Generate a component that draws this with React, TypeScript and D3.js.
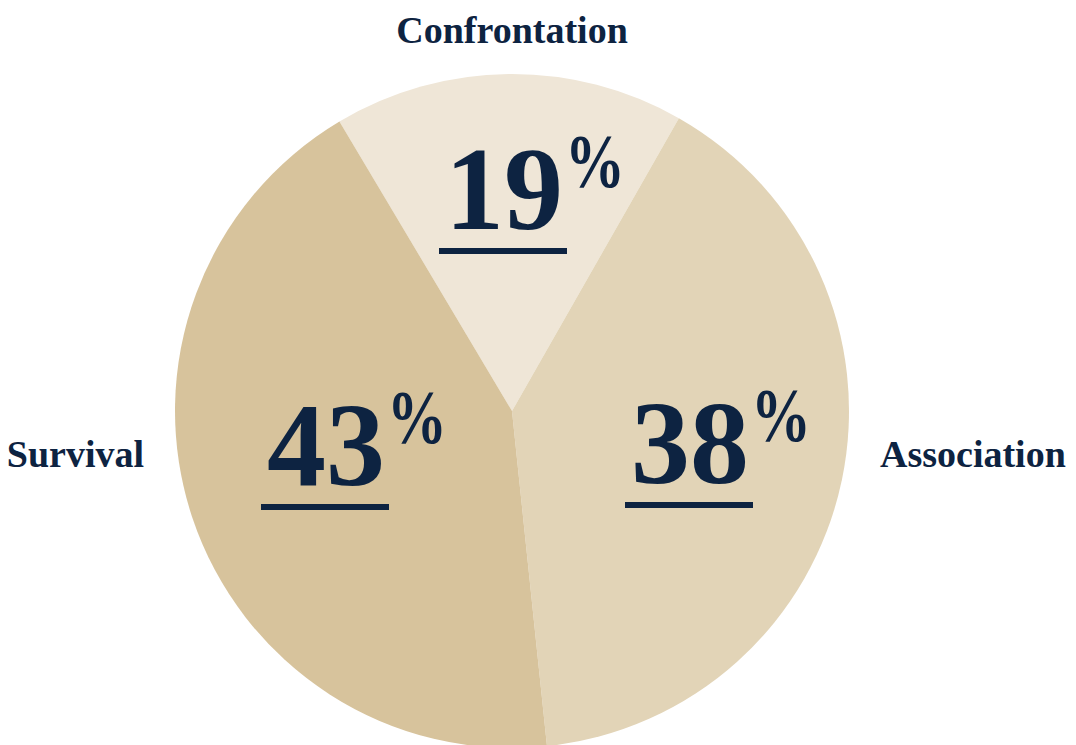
import React, { useRef, useEffect } from 'react';
import * as d3 from 'd3';

// Slice names and printed percentages
const categories = ['Confrontation', 'Association', 'Survival'];
const percentLabels = ['19', '38', '43'];
// Angular shares as drawn in the picture (they do not quite follow the printed numbers)
const sliceShares = [16.8, 40.1, 43.1];
const sliceColors = ['#efe6d7', '#e2d4b7', '#d7c39c'];

const WIDTH = 1076;
const HEIGHT = 745;
const CX = 512;
const CY = 411;
const RADIUS = 337;
const START_DEG = -30.8;
const NAVY = '#0d2341';
const FONT = '"Liberation Serif", "DejaVu Serif", serif';

// number label offsets from pie centre (x centre, baseline)
const numberOffsets = [
  { dx: -8, dy: -182 },
  { dx: 178, dy: 72 },
  { dx: -186, dy: 74 },
];
// name label placement: angle (deg, clockwise from top)
const nameAngles = [0, 90, 270];

const App: React.FC = () => {
  const svgRef = useRef<SVGSVGElement>(null);

  useEffect(() => {
    if (!svgRef.current) return;
    const svg = d3.select(svgRef.current);
    svg.selectAll('*').remove();

    const start = (START_DEG * Math.PI) / 180;
    const pie = d3.pie<number>()
      .value(d => d)
      .sort(null)
      .startAngle(start)
      .endAngle(start + 2 * Math.PI);

    const arc = d3.arc<d3.PieArcDatum<number>>()
      .innerRadius(0)
      .outerRadius(RADIUS);

    const g = svg.append('g').attr('transform', `translate(${CX},${CY})`);

    g.selectAll('path.slice')
      .data(pie(sliceShares))
      .enter()
      .append('path')
      .attr('class', 'slice')
      .attr('d', arc)
      .attr('fill', (_, i) => sliceColors[i]);

    // big percentage labels
    percentLabels.forEach((label, i) => {
      const { dx, dy } = numberOffsets[i];
      const lg = g.append('g').attr('transform', `translate(${dx},${dy})`);
      const digits = lg.append('text')
        .attr('x', 0)
        .attr('y', 0)
        .attr('text-anchor', 'middle')
        .style('font-family', FONT)
        .style('font-weight', 'bold')
        .style('font-size', '118px')
        .style('fill', NAVY)
        .text(label);
      const box = (digits.node() as SVGTextElement).getBBox();
      lg.append('text')
        .attr('x', box.x + box.width + 2)
        .attr('y', -42)
        .attr('textLength', 60)
        .attr('lengthAdjust', 'spacingAndGlyphs')
        .style('font-family', FONT)
        .style('font-weight', 'bold')
        .style('font-size', '76px')
        .style('fill', NAVY)
        .text('%');
      lg.append('rect')
        .attr('x', box.x - 6)
        .attr('y', 19)
        .attr('width', box.width + 10)
        .attr('height', 6)
        .attr('fill', NAVY);
    });

    // category names around the pie
    categories.forEach((name, i) => {
      const a = (nameAngles[i] * Math.PI) / 180;
      const r = RADIUS + 31;
      const x = Math.sin(a) * r;
      const isTop = Math.abs(Math.sin(a)) < 0.5;
      const y = isTop ? -Math.cos(a) * r : 56;
      g.append('text')
        .attr('x', x)
        .attr('y', y)
        .attr('text-anchor', isTop ? 'middle' : Math.sin(a) > 0 ? 'start' : 'end')
        .style('font-family', FONT)
        .style('font-weight', 'bold')
        .style('font-size', '38px')
        .style('fill', NAVY)
        .text(name);
    });
  }, []);

  return (
    <svg
      ref={svgRef}
      width={WIDTH}
      height={HEIGHT}
      viewBox={`0 0 ${WIDTH} ${HEIGHT}`}
      style={{ position: 'absolute', left: 0, top: 0, background: '#ffffff' }}
    />
  );
};

export default App;
